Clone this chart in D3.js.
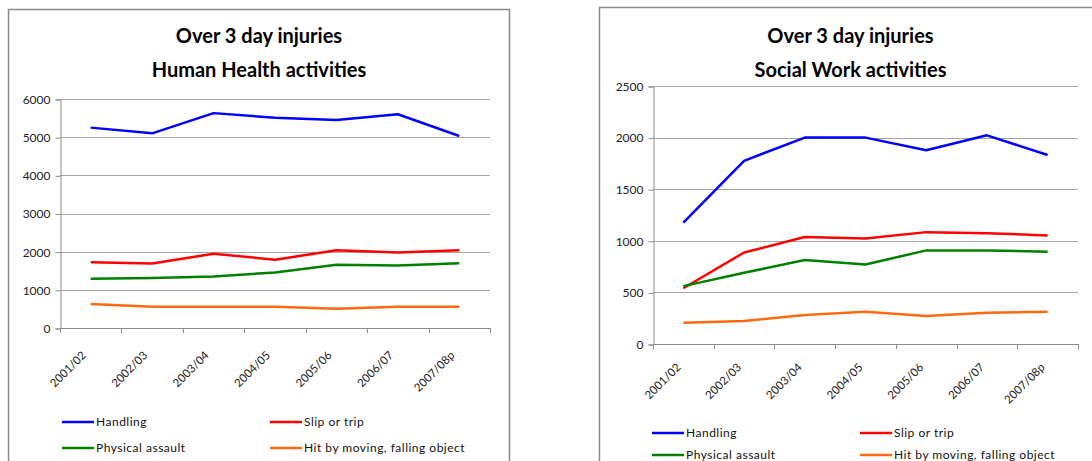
<!DOCTYPE html>
<html>
<head>
<meta charset="utf-8">
<script src="https://cdn.jsdelivr.net/npm/d3@7"></script>
<style>
  body { margin: 0; background: #fff; }
  svg { display: block; font-family: Lato, "Open Sans", sans-serif; }
</style>
</head>
<body>
<svg id="chart" width="1092" height="461"></svg>
<script>
// categories and series
const years = ["2001/02", "2002/03", "2003/04", "2004/05", "2005/06", "2006/07", "2007/08p"];
const seriesNames = ["Handling", "Slip or trip", "Physical assault", "Hit by moving, falling object"];
const seriesColors = ["#0000ff", "#ff0000", "#008000", "#ff6a10"];

// Human Health activities
const hhHandling = [5250, 5100, 5630, 5510, 5450, 5600, 5030];
const hhSlip     = [1720, 1690, 1945, 1790, 2035, 1980, 2035];
const hhAssault  = [1290, 1310, 1350, 1455, 1660, 1635, 1695];
const hhHit      = [630, 560, 560, 560, 505, 560, 560];
const hhTicks    = [0, 1000, 2000, 3000, 4000, 5000, 6000];

// Social Work activities
const swHandling = [1175, 1775, 2000, 2000, 1878, 2022, 1832];
const swSlip     = [540, 887, 1036, 1023, 1084, 1074, 1052];
const swAssault  = [561, 690, 813, 771, 907, 907, 894];
const swHit      = [206, 223, 281, 313, 271, 303, 313];
const swTicks    = [0, 500, 1000, 1500, 2000, 2500];

const svg = d3.select("#chart");

const panels = [
  {
    box: {x: 8.5, y: 9.5, w: 501, h: 480},
    title: ["Over 3 day injuries", "Human Health activities"],
    plot: {left: 60, right: 490, top: 99, bottom: 328},
    ticks: hhTicks,
    series: [hhHandling, hhSlip, hhAssault, hhHit],
    labelOff: {dx: -4, dy: 28},
    legend: {x: 62, y: 422, col: 208, row: 26}
  },
  {
    box: {x: 599.5, y: 7.5, w: 502, h: 480},
    title: ["Over 3 day injuries", "Social Work activities"],
    plot: {left: 653, right: 1078, top: 86, bottom: 344},
    ticks: swTicks,
    series: [swHandling, swSlip, swAssault, swHit],
    labelOff: {dx: -2, dy: 24},
    legend: {x: 652, y: 433, col: 208, row: 22}
  }
];

function drawPanel(p) {
  const g = svg.append("g");

  g.append("rect")
    .attr("x", p.box.x).attr("y", p.box.y)
    .attr("width", p.box.w).attr("height", p.box.h)
    .attr("fill", "#fff")
    .attr("stroke", "#8c8c8c")
    .attr("stroke-width", 1.5);

  const cx = p.box.x + p.box.w / 2;
  g.append("text").text(p.title[0])
    .attr("x", cx).attr("y", 43)
    .attr("text-anchor", "middle")
    .attr("font-size", 20).attr("font-weight", "bold").attr("fill", "#000");
  g.append("text").text(p.title[1])
    .attr("x", cx).attr("y", 77)
    .attr("text-anchor", "middle")
    .attr("font-size", 20).attr("font-weight", "bold").attr("fill", "#000");

  const x = d3.scaleBand().domain(years).range([p.plot.left, p.plot.right]);
  const y = d3.scaleLinear().domain([0, d3.max(p.ticks)]).range([p.plot.bottom, p.plot.top]);

  // gridlines
  g.append("g").selectAll("line")
    .data(p.ticks.filter(t => t > 0))
    .join("line")
    .attr("x1", p.plot.left).attr("x2", p.plot.right)
    .attr("y1", d => Math.round(y(d)) + 0.5).attr("y2", d => Math.round(y(d)) + 0.5)
    .attr("stroke", "#a6a6a6").attr("stroke-width", 1);

  // y axis
  const yAxis = g.append("g")
    .attr("transform", "translate(" + (p.plot.left + 0.5) + ",0.5)")
    .call(d3.axisLeft(y).tickValues(p.ticks).tickSize(5).tickPadding(5).tickFormat(d3.format("d")));
  yAxis.select(".domain").attr("stroke", "#8c8c8c");
  yAxis.selectAll(".tick line").attr("stroke", "#8c8c8c");
  yAxis.selectAll("text").attr("font-size", 12).attr("fill", "#222").attr("font-family", "Lato, sans-serif");

  // x axis with ticks at category boundaries
  const bounds = d3.range(years.length + 1).map(i => p.plot.left + i * x.step());
  const xg = g.append("g");
  xg.append("line")
    .attr("x1", p.plot.left).attr("x2", p.plot.right)
    .attr("y1", p.plot.bottom + 0.5).attr("y2", p.plot.bottom + 0.5)
    .attr("stroke", "#8c8c8c");
  xg.selectAll("line.tk").data(bounds).join("line").attr("class", "tk")
    .attr("x1", d => Math.round(d) + 0.5).attr("x2", d => Math.round(d) + 0.5)
    .attr("y1", p.plot.bottom).attr("y2", p.plot.bottom + 5)
    .attr("stroke", "#8c8c8c");
  xg.selectAll("text").data(years).join("text")
    .text(d => d)
    .attr("transform", d => "translate(" + (x(d) + x.bandwidth() / 2 + p.labelOff.dx) + "," + (p.plot.bottom + p.labelOff.dy) + ") rotate(-45)")
    .attr("text-anchor", "end")
    .attr("font-size", 11.5).attr("fill", "#222");

  // lines
  const line = d3.line()
    .x((d, i) => x(years[i]) + x.bandwidth() / 2)
    .y(d => y(d));
  g.append("g").selectAll("path")
    .data(p.series)
    .join("path")
    .attr("fill", "none")
    .attr("stroke", (d, i) => seriesColors[i])
    .attr("stroke-width", 2.5)
    .attr("stroke-linejoin", "round")
    .attr("d", line);

  // legend
  const lg = g.append("g");
  seriesNames.forEach((name, i) => {
    const lx = p.legend.x + (i % 2) * p.legend.col;
    const ly = p.legend.y + Math.floor(i / 2) * p.legend.row;
    lg.append("line")
      .attr("x1", lx).attr("x2", lx + 32)
      .attr("y1", ly).attr("y2", ly)
      .attr("stroke", seriesColors[i]).attr("stroke-width", 2.5);
    lg.append("text").text(name)
      .attr("x", lx + 34).attr("y", ly + 4)
      .attr("font-size", 12).attr("fill", "#111")
      .attr("letter-spacing", 0.5);
  });
}

panels.forEach(drawPanel);
</script>
</body>
</html>
